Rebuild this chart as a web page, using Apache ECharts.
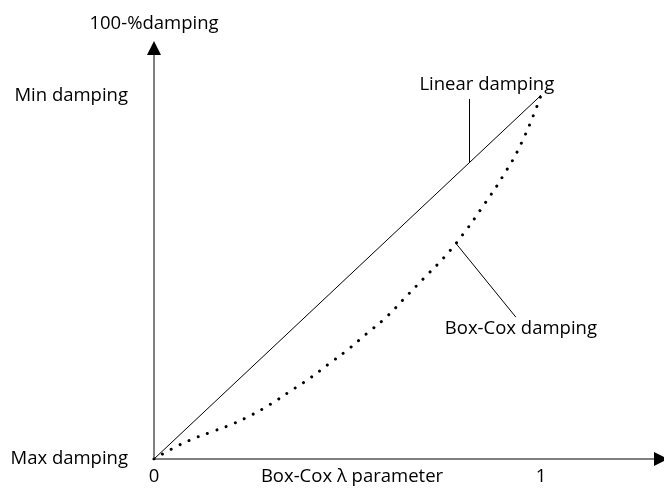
<!DOCTYPE html>
<html>
<head>
<meta charset="utf-8">
<script src="https://cdn.jsdelivr.net/npm/echarts@6/dist/echarts.min.js"></script>
<style>
  html, body { margin: 0; padding: 0; background: #fff; }
  #chart { width: 664px; height: 489px; }
</style>
</head>
<body>
<div id="chart"></div>
<script>
// lambda values (x) and damping levels (y), both normalised 0..1
const linearX = [0, 1]
const linearY = [0, 1]
const boxCoxX = [0, 0.05, 0.1, 0.15, 0.2, 0.25, 0.3, 0.35, 0.4, 0.45, 0.5, 0.55, 0.6, 0.65, 0.7, 0.75, 0.8, 0.85, 0.9, 0.95, 1]
const boxCoxY = [0, 0.03, 0.055, 0.075, 0.095, 0.12, 0.15, 0.185, 0.22, 0.26, 0.3, 0.345, 0.39, 0.445, 0.5, 0.555, 0.62, 0.695, 0.775, 0.87, 1]

const xTickValues = [0, 1]
const xTickLabels = ['0', '1']
const yTickValues = [0, 1]
const yTickLabels = ['Max damping', 'Min damping']

// callouts: [where the leader touches the curve, leader end, label centre]
const linearCallout = { from: [0.814, 0.814], to: [0.814, 0.99], label: [0.86, 1.028], text: 'Linear damping' }
const boxCoxCallout = { from: [0.78, 0.593], to: [0.935, 0.39], label: [0.948, 0.357], text: 'Box-Cox damping' }

const font = 'Open Sans'
const fontSize = 18.5

const chart = echarts.init(document.getElementById('chart'))

function callout(c) {
  return {
    markLine: {
      silent: true,
      symbol: 'none',
      label: { show: false },
      lineStyle: { color: '#000', width: 1, type: 'solid' },
      data: [[{ coord: c.from }, { coord: c.to }]]
    },
    markPoint: {
      silent: true,
      symbol: 'circle',
      symbolSize: 0,
      label: {
        show: true,
        position: 'inside',
        formatter: c.text,
        color: '#000',
        fontFamily: font,
        fontSize: fontSize
      },
      data: [{ coord: c.label }]
    }
  }
}

const textStyle = { color: '#000', fontFamily: font, fontSize: fontSize }
const xMax = 1.31
const yMax = 1.13

// gray axis lines, plus a second pair of axes that only draws the black arrow heads
const baseX = {
  type: 'value', min: 0, max: xMax, position: 'bottom',
  axisTick: { show: false }, splitLine: { show: false }
}
const baseY = {
  type: 'value', min: 0, max: yMax, position: 'left',
  axisTick: { show: false }, splitLine: { show: false }
}
const arrowLine = {
  show: true,
  symbol: ['none', 'triangle'],
  symbolSize: [14, 14],
  lineStyle: { color: '#000', width: 0 }
}

chart.setOption({
  animation: false,
  backgroundColor: '#fff',
  grid: { left: 154, right: 3, top: 48, bottom: 30, containLabel: false, outerBoundsMode: 'none' },
  xAxis: [
    Object.assign({}, baseX, {
      name: 'Box-Cox λ parameter',
      nameLocation: 'middle',
      nameGap: 8,
      nameMoveOverlap: false,
      nameTextStyle: Object.assign({}, textStyle, { padding: [0, 111, 0, 0] }),
      axisLine: { show: true, onZero: false, lineStyle: { color: '#7f7f7f', width: 2 } },
      axisLabel: Object.assign({}, textStyle, {
        customValues: xTickValues,
        formatter: v => xTickLabels[xTickValues.indexOf(v)],
        margin: 8
      })
    }),
    Object.assign({}, baseX, {
      axisLine: Object.assign({ onZero: false }, arrowLine),
      axisLabel: { show: false }
    })
  ],
  yAxis: [
    Object.assign({}, baseY, {
      name: '100-%damping',
      nameLocation: 'end',
      nameGap: 15,
      nameTextStyle: Object.assign({}, textStyle, { align: 'center' }),
      axisLine: { show: true, onZero: false, lineStyle: { color: '#7f7f7f', width: 2 } },
      axisLabel: Object.assign({}, textStyle, {
        customValues: yTickValues,
        formatter: v => yTickLabels[yTickValues.indexOf(v)],
        margin: 26
      })
    }),
    Object.assign({}, baseY, {
      axisLine: Object.assign({ onZero: false }, arrowLine),
      axisLabel: { show: false }
    })
  ],
  series: [
    Object.assign({
      name: 'Linear damping',
      type: 'line',
      showSymbol: false,
      lineStyle: { color: '#000', width: 1 },
      data: linearX.map((x, i) => [x, linearY[i]])
    }, callout(linearCallout)),
    Object.assign({
      name: 'Box-Cox damping',
      type: 'line',
      smooth: true,
      showSymbol: false,
      lineStyle: { color: '#000', width: 3, type: [0.01, 9.9], cap: 'round' },
      data: boxCoxX.map((x, i) => [x, boxCoxY[i]])
    }, callout(boxCoxCallout))
  ]
})

window.addEventListener('resize', () => chart.resize())
</script>
</body>
</html>
